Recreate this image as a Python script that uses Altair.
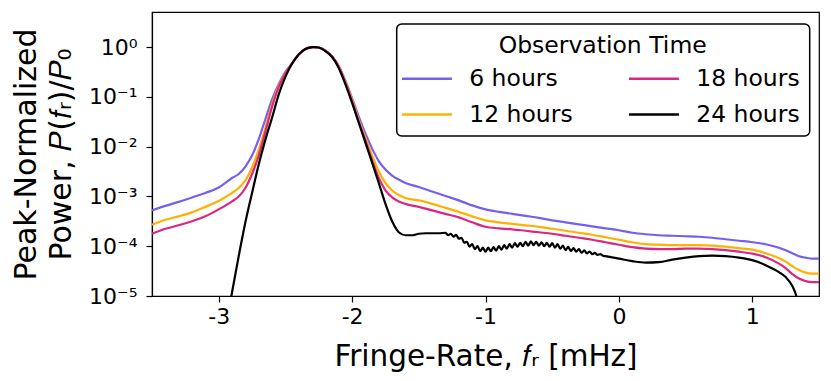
import altair as alt
import pandas as pd

# ---- data (log10 of peak-normalized power) ----
x_grid = [-3.5, -3.4, -3.3, -3.2, -3.1, -3.0, -2.9, -2.85, -2.8, -2.75, -2.7, -2.65,
          -2.6, -2.55, -2.5, -2.45, -2.4, -2.35, -2.3, -2.28, -2.25, -2.2, -2.15, -2.1,
          -2.05, -2.0, -1.95, -1.9, -1.85, -1.8, -1.75, -1.7, -1.65, -1.6, -1.5, -1.4,
          -1.3, -1.2, -1.1, -1.0, -0.9, -0.8, -0.7, -0.6, -0.5, -0.4, -0.3, -0.2, -0.1,
          0.0, 0.1, 0.2, 0.3, 0.4, 0.5, 0.6, 0.7, 0.8, 0.9, 1.0, 1.1, 1.2, 1.25, 1.3,
          1.35, 1.4, 1.45, 1.5]

log_6h = [-3.28, -3.19, -3.11, -3.02, -2.93, -2.82, -2.63, -2.55, -2.40, -2.18, -1.85, -1.45,
          -1.05, -0.74, -0.50, -0.33, -0.15, -0.04, -0.003, 0.0, -0.01, -0.07, -0.19, -0.38,
          -0.68, -1.03, -1.40, -1.74, -2.04, -2.29, -2.46, -2.58, -2.66, -2.73, -2.81, -2.90,
          -2.99, -3.08, -3.18, -3.26, -3.31, -3.35, -3.39, -3.43, -3.48, -3.52, -3.56, -3.60, -3.64,
          -3.68, -3.73, -3.76, -3.78, -3.79, -3.80, -3.81, -3.83, -3.86, -3.89, -3.92, -3.96, -4.03, -4.08, -4.14,
          -4.20, -4.23, -4.25, -4.25]

log_12h = [-3.57, -3.47, -3.40, -3.32, -3.21, -3.09, -2.93, -2.83, -2.68, -2.42, -2.06, -1.62,
           -1.15, -0.77, -0.52, -0.33, -0.15, -0.04, -0.003, 0.0, -0.01, -0.07, -0.19, -0.39,
           -0.70, -1.06, -1.46, -1.82, -2.18, -2.50, -2.73, -2.88, -2.97, -3.03, -3.08, -3.15,
           -3.23, -3.31, -3.40, -3.48, -3.52, -3.55, -3.58, -3.61, -3.65, -3.69, -3.73, -3.77, -3.82,
           -3.87, -3.92, -3.96, -3.97, -3.98, -3.98, -3.98, -3.99, -4.01, -4.04, -4.07, -4.14, -4.24, -4.31, -4.40,
           -4.48, -4.53, -4.55, -4.55]

log_18h = [-3.75, -3.65, -3.58, -3.50, -3.40, -3.26, -3.10, -3.00, -2.83, -2.55, -2.18, -1.70,
           -1.20, -0.80, -0.53, -0.33, -0.15, -0.04, -0.003, 0.0, -0.01, -0.07, -0.19, -0.40,
           -0.72, -1.09, -1.50, -1.88, -2.27, -2.63, -2.88, -3.02, -3.10, -3.15, -3.21, -3.28,
           -3.35, -3.42, -3.52, -3.61, -3.64, -3.66, -3.69, -3.72, -3.75, -3.79, -3.83, -3.87, -3.92,
           -3.97, -4.02, -4.05, -4.06, -4.06, -4.05, -4.05, -4.06, -4.08, -4.11, -4.15, -4.22, -4.35, -4.44, -4.56,
           -4.65, -4.70, -4.72, -4.72]

x_24h = [-2.97, -2.905, -2.85, -2.8, -2.75, -2.7, -2.65, -2.6, -2.55, -2.5, -2.45, -2.4,
         -2.35, -2.3, -2.28, -2.25, -2.2, -2.15, -2.1, -2.05, -2.0, -1.95, -1.9, -1.85,
         -1.8, -1.75, -1.7, -1.65, -1.6, -1.55, -1.5, -1.45, -1.4, -1.35,
         -1.30, -1.28, -1.26, -1.24, -1.22, -1.20, -1.18, -1.16, -1.14, -1.12, -1.10, -1.08,
         -1.06, -1.04, -1.02, -1.00, -0.98, -0.96, -0.94, -0.92, -0.90, -0.88, -0.86, -0.84,
         -0.82, -0.80, -0.78, -0.76, -0.74, -0.72, -0.70, -0.68, -0.66, -0.64, -0.62, -0.60,
         -0.58, -0.56, -0.54, -0.52, -0.50, -0.48, -0.46, -0.44, -0.42, -0.40, -0.38, -0.36,
         -0.34, -0.32, -0.30, -0.28, -0.26, -0.24, -0.22, -0.20, -0.18, -0.16, -0.14, -0.12,
         -0.10,
         0.0, 0.1, 0.2, 0.3, 0.4, 0.5, 0.6, 0.7, 0.8, 0.9, 1.0, 1.1, 1.2, 1.25, 1.3, 1.33, 1.36]
log_24h = [-6.0, -5.0, -4.2, -3.52, -2.93, -2.36, -1.86, -1.42, -0.95, -0.60, -0.33, -0.15,
           -0.04, -0.003, 0.0, -0.01, -0.08, -0.20, -0.42, -0.75, -1.12, -1.52, -1.92, -2.32,
           -2.73, -3.15, -3.50, -3.72, -3.78, -3.78, -3.75, -3.74, -3.74, -3.74,
           -3.73, -3.78, -3.75, -3.81, -3.77, -3.85, -3.83, -3.93, -3.91, -4.01, -3.96, -4.06,
           -4.00, -4.10, -4.03, -4.11, -4.03, -4.10, -4.02, -4.09, -4.00, -4.07, -3.98, -4.05,
           -3.96, -4.03, -3.94, -4.01, -3.93, -4.00, -3.91, -3.99, -3.90, -3.98, -3.91, -3.99,
           -3.92, -4.00, -3.93, -4.01, -3.94, -4.03, -3.96, -4.05, -3.99, -4.08, -4.015, -4.095,
           -4.04, -4.11, -4.06, -4.13, -4.085, -4.145, -4.11, -4.16, -4.135, -4.175, -4.16, -4.19,
           -4.20,
           -4.25, -4.30, -4.33, -4.32, -4.27, -4.23, -4.20, -4.19, -4.20, -4.23, -4.28, -4.38,
           -4.52, -4.62, -4.80, -5.0, -5.4]

series_names = ["6 hours", "12 hours", "18 hours", "24 hours"]
series_colors = ["#785EF0", "#FFB000", "#DC267F", "#000000"]

rows = []
for name, xs, ls in [("6 hours", x_grid, log_6h), ("12 hours", x_grid, log_12h),
                     ("18 hours", x_grid, log_18h), ("24 hours", x_24h, log_24h)]:
    for xv, lv in zip(xs, ls):
        rows.append({"fr": xv, "power": 10 ** lv, "series": name})
df = pd.DataFrame(rows)

FONT = "DejaVu Sans"

y_label_expr = ("'10' + (round(log(datum.value)/LN10) < 0 ? '\u207b' : '') + "
                "['\u2070','\u00b9','\u00b2','\u00b3','\u2074','\u2075','\u2076'][abs(round(log(datum.value)/LN10))]")

chart = alt.Chart(df).mark_line(clip=True, strokeWidth=2.2, interpolate="monotone").encode(
    x=alt.X("fr:Q",
            scale=alt.Scale(domain=[-3.5, 1.5], nice=False, zero=False),
            axis=alt.Axis(values=[-3, -2, -1, 0, 1], labelExpr="toString(datum.value)",
                          title="Fringe-Rate, \U0001D453\u1d63 [mHz]",
                          titleBaseline="alphabetic", titleY=69, titleFontSize=29.5,
                          titleFontWeight="normal", labelFontSize=22, labelPadding=4,
                          tickSize=6, grid=False)),
    y=alt.Y("power:Q",
            scale=alt.Scale(type="log", domain=[1e-5, 5.06], nice=False),
            axis=alt.Axis(values=[1e-5, 1e-4, 1e-3, 1e-2, 1e-1, 1], labelExpr=y_label_expr,
                          title=["Peak-Normalized", "Power, \U0001D443(\U0001D453\u1d63)/\U0001D443\u2080"],
                          titleBaseline="alphabetic", titleX=-117, titleLineHeight=35,
                          titleFontSize=30, titleFontWeight="normal", labelFontSize=22,
                          labelPadding=9, tickSize=6, grid=False)),
    color=alt.Color("series:N",
                    scale=alt.Scale(domain=series_names, range=series_colors),
                    legend=alt.Legend(orient="none", legendX=244.7, legendY=12, columns=2,
                                      title="Observation Time", titleFontSize=23.5,
                                      titleFontWeight="normal", titleAnchor="middle",
                                      titleLimit=500, labelLimit=300,
                                      titlePadding=4, labelFontSize=23.5,
                                      symbolType="M-1.4,0H1.82",
                                      symbolSize=961, symbolStrokeWidth=2.5, labelOffset=28.5,
                                      columnPadding=51, rowPadding=7, padding=10,
                                      strokeColor="black", fillColor="white", cornerRadius=5)),
    detail="series:N",
).properties(
    width=667, height=284,
    autosize=alt.AutoSizeParams(type="none"),
    padding={"left": 144, "top": 4, "right": 4, "bottom": 82},
).configure(font=FONT).configure_axis(
    domainColor="black", tickColor="black", labelColor="black", titleColor="black",
    labelFont=FONT, titleFont=FONT, domainWidth=1.2, tickWidth=1.2,
).configure_legend(labelFont=FONT, titleFont=FONT, labelColor="black", titleColor="black",
                   strokeWidth=1.5).configure_view(stroke="black", strokeWidth=1.2)

chart.save("out.html", embed_options={"renderer": "svg", "actions": False})
